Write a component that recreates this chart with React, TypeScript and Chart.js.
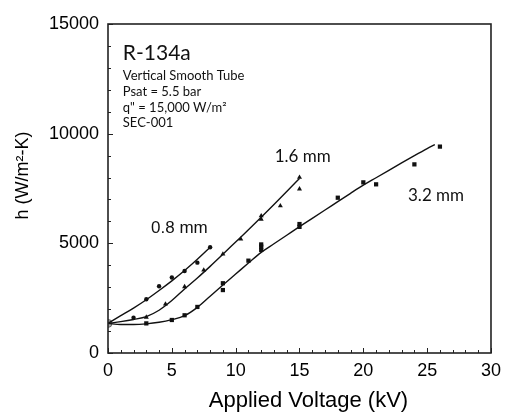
import React, { useEffect, useRef } from "react";
import { Chart, registerables } from "chart.js";

Chart.register(...registerables);

// 0.8 mm data (circles)
const x08 = [2, 3, 4, 5, 6, 7, 8];
const y08 = [1610, 2450, 3040, 3440, 3740, 4120, 4820];
// 1.6 mm data (triangles)
const x16 = [3, 4.5, 6, 7.5, 9, 10.4, 12, 12, 13.5, 15, 15];
const y16 = [1630, 2230, 3020, 3780, 4510, 5190, 6100, 6250, 6710, 7480, 8010];
// 3.2 mm data (squares)
const x32 = [3, 5, 6, 7, 9, 9, 11, 12, 12, 12, 15, 15, 18, 20, 21, 24, 26];
const y32 = [1350, 1505, 1720, 2100, 2870, 3180, 4210, 4700, 4850, 4950, 5750, 5880, 7080, 7780, 7690, 8600, 9410];

// fitted curves
const fx08 = [0, 1, 2, 3, 4, 5, 6, 7, 8];
const fy08 = [1350, 1700, 2050, 2430, 2850, 3290, 3760, 4270, 4820];
const fx16 = [0, 1, 2, 3, 4, 5, 6, 7, 8, 9, 10, 11, 12, 13, 14, 15];
const fy16 = [1350, 1430, 1530, 1660, 1950, 2390, 2920, 3420, 3950, 4500, 5060, 5620, 6190, 6770, 7360, 7960];
const fx32 = [0, 1, 2, 3, 4, 5, 6, 7, 8, 9, 10, 11, 12, 13, 14, 15, 16, 17, 18, 19, 20, 21, 22, 23, 24, 25, 25.6];
const fy32 = [1350, 1300, 1300, 1330, 1400, 1520, 1700, 2080, 2590, 3100, 3600, 4100, 4590, 4980, 5370, 5760, 6140, 6520, 6900, 7280, 7650, 7990, 8330, 8670, 9000, 9320, 9500];

// zero-voltage reference point
const x0 = [0];
const y0 = [1350];

// axis ranges & ticks
const xMin = 0, xMax = 30, xStep = 5, xMinor = 1;
const yMin = 0, yMax = 15000, yStep = 5000, yMinor = 1000;
const xTitle = "Applied Voltage (kV)";
const yTitle = "h (W/m²-K)";

// annotations
const noteTexts = ["R-134a", "Vertical Smooth Tube", "Psat = 5.5 bar", "q\" = 15,000 W/m²", "SEC-001", "1.6 mm", "3.2 mm", "0.8 mm"];
const noteX = [1.16, 1.16, 1.16, 1.16, 1.16, 13.06, 23.5, 3.37];
const noteY = [13359, 12447, 11718, 10988, 10282, 8695, 6944, 5458];
const noteFonts = [
  "21px Lato",
  "13px Lato",
  "13px Lato",
  "13px Lato",
  "13px Lato",
  "17px Lato",
  "17px Lato",
  "17px 'Liberation Sans'",
];

const pts = (xs: number[], ys: number[]) => xs.map((x, i) => ({ x, y: ys[i] }));

const framePlugin = {
  id: "frameTicks",
  afterDatasetsDraw(chart: any) {
    const { ctx, chartArea, scales } = chart;
    const xs = scales.x, ys = scales.y;
    ctx.save();
    ctx.strokeStyle = "#222";
    ctx.lineWidth = 1;
    for (let v = xMin; v <= xMax; v += xMinor) {
      const px = Math.round(xs.getPixelForValue(v)) + 0.5;
      const len = v % xStep === 0 ? 5 : 3;
      ctx.beginPath();
      ctx.moveTo(px, chartArea.bottom);
      ctx.lineTo(px, chartArea.bottom - len);
      ctx.stroke();
    }
    for (let v = yMin; v <= yMax; v += yMinor) {
      const py = Math.round(ys.getPixelForValue(v)) + 0.5;
      const len = v % yStep === 0 ? 5 : 3;
      ctx.beginPath();
      ctx.moveTo(chartArea.left, py);
      ctx.lineTo(chartArea.left + len, py);
      ctx.stroke();
    }
    ctx.lineWidth = 1.6;
    ctx.strokeStyle = "#222";
    ctx.strokeRect(chartArea.left, chartArea.top, chartArea.right - chartArea.left, chartArea.bottom - chartArea.top);
    // annotations
    ctx.fillStyle = "#111";
    ctx.textBaseline = "alphabetic";
    ctx.textAlign = "left";
    noteTexts.forEach((t, i) => {
      ctx.font = noteFonts[i];
      ctx.fillText(t, xs.getPixelForValue(noteX[i]), ys.getPixelForValue(noteY[i]));
    });
    // axis titles
    ctx.fillStyle = "#000";
    ctx.font = "22px 'Liberation Sans', Arial";
    ctx.textAlign = "center";
    ctx.fillText(xTitle, (chartArea.left + chartArea.right) / 2 + 9, chartArea.bottom + 54);
    ctx.save();
    ctx.font = "18px 'Liberation Sans', Arial";
    ctx.translate(28, (chartArea.top + chartArea.bottom) / 2 - 13);
    ctx.rotate(-Math.PI / 2);
    ctx.fillText(yTitle, 0, 0);
    ctx.restore();
    ctx.restore();
  },
};

export default function App() {
  const ref = useRef<HTMLCanvasElement | null>(null);
  useEffect(() => {
    if (!ref.current) return;
    const lineDs = (xs: number[], ys: number[]) => ({
      data: pts(xs, ys),
      showLine: true,
      borderColor: "#111",
      borderWidth: 1.4,
      pointRadius: 0,
      tension: 0.4,
      cubicInterpolationMode: "monotone" as const,
      fill: false,
    });
    const chart = new Chart(ref.current, {
      type: "scatter",
      data: {
        datasets: [
          lineDs(fx08, fy08),
          lineDs(fx16, fy16),
          lineDs(fx32, fy32),
          { data: pts(x08, y08), pointStyle: "circle", pointRadius: 2.2, backgroundColor: "#111", borderColor: "#111", borderWidth: 0 },
          { data: pts(x16, y16), pointStyle: "triangle", pointRadius: 2.9, backgroundColor: "#111", borderColor: "#111", borderWidth: 0 },
          { data: pts(x32, y32), pointStyle: "rect", pointRadius: 3.0, backgroundColor: "#111", borderColor: "#111", borderWidth: 0 },
          { data: pts(x0, y0), pointStyle: "circle", pointRadius: 4, backgroundColor: "#aaa", borderColor: "#666", borderWidth: 1 },
        ],
      },
      options: {
        responsive: false,
        animation: false,
        layout: { padding: { top: 24, right: 11, left: 0, bottom: 0 } },
        plugins: { legend: { display: false }, tooltip: { enabled: false } },
        scales: {
          x: {
            type: "linear",
            min: xMin,
            max: xMax,
            ticks: { stepSize: xStep, color: "#000", font: { family: "'Liberation Sans', Arial", size: 18 }, padding: 7, maxRotation: 0, callback: (v: any) => String(v) },
            grid: { display: false, drawTicks: false },
            border: { display: false },
            title: { display: false },
            afterFit: (s: any) => { s.height = 59; },
          },
          y: {
            type: "linear",
            min: yMin,
            max: yMax,
            ticks: { stepSize: yStep, color: "#000", font: { family: "'Liberation Sans', Arial", size: 18 }, padding: 9, callback: (v: any) => String(v) },
            grid: { display: false, drawTicks: false },
            border: { display: false },
            title: { display: false },
            afterFit: (s: any) => { s.width = 108; },
          },
        },
      },
      plugins: [framePlugin],
    });
    return () => chart.destroy();
  }, []);
  return (
    <div style={{ position: "fixed", left: 0, top: 0, width: 508, height: 412, background: "#fff" }}>
      <canvas ref={ref} width={508} height={412} style={{ display: "block" }} />
    </div>
  );
}
